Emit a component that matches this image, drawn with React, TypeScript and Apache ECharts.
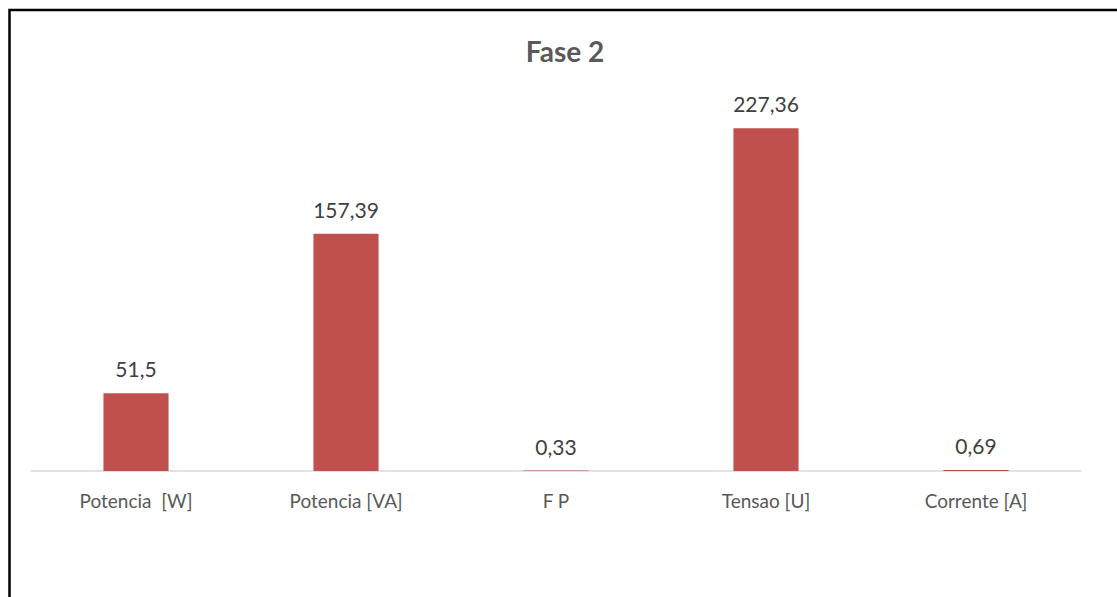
import React, { useEffect, useRef } from "react";
import * as echarts from "echarts";

const categories = ["Potencia  [W]", "Potencia [VA]", "F P", "Tensao [U]", "Corrente [A]"];
const values = [51.5, 157.39, 0.33, 227.36, 0.69];
const chartTitle = "Fase 2";

const fmt = (v: number) => String(v).replace(".", ",");

export default function App() {
  const ref = useRef<HTMLDivElement>(null);

  useEffect(() => {
    if (!ref.current) return;
    const chart = echarts.init(ref.current, undefined, { renderer: "svg" });
    chart.setOption({
      animation: false,
      backgroundColor: "#ffffff",
      textStyle: { fontFamily: "Lato, 'Open Sans', sans-serif" },
      title: {
        text: chartTitle,
        left: 560,
        top: 32,
        textAlign: "center",
        textStyle: { fontSize: 28, fontWeight: "bold", color: "#595959", fontFamily: "Lato, sans-serif" },
      },
      graphic: [
        {
          type: "polyline",
          shape: { points: [[9.5, 597], [9.5, 10], [1117, 10]] },
          style: { stroke: "#000", lineWidth: 2.5, fill: "none" },
          z: 10,
        },
      ],
      grid: { left: 31, right: 36, top: 94, bottom: 126, containLabel: false },
      xAxis: {
        type: "category",
        data: categories,
        axisLine: { lineStyle: { color: "#d9d9d9", width: 1.5 } },
        axisTick: { show: false },
        axisLabel: { color: "#595959", fontSize: 19, margin: 20, fontFamily: "Lato, sans-serif" },
      },
      yAxis: {
        type: "value",
        min: 0,
        max: 250,
        show: false,
        splitLine: { show: false },
      },
      series: [
        {
          type: "bar",
          data: values,
          barWidth: "31%",
          itemStyle: { color: "#C0504D" },
          label: {
            show: true,
            position: "top",
            distance: 14,
            color: "#404040",
            fontSize: 21,
            fontFamily: "Lato, sans-serif",
            formatter: (p: any) => fmt(p.value),
          },
        },
      ],
    });
    return () => chart.dispose();
  }, []);

  return (
    <div style={{ position: "fixed", left: 0, top: 0, width: 1117, height: 597 }}>
      <div ref={ref} style={{ width: 1117, height: 597 }} />
    </div>
  );
}
